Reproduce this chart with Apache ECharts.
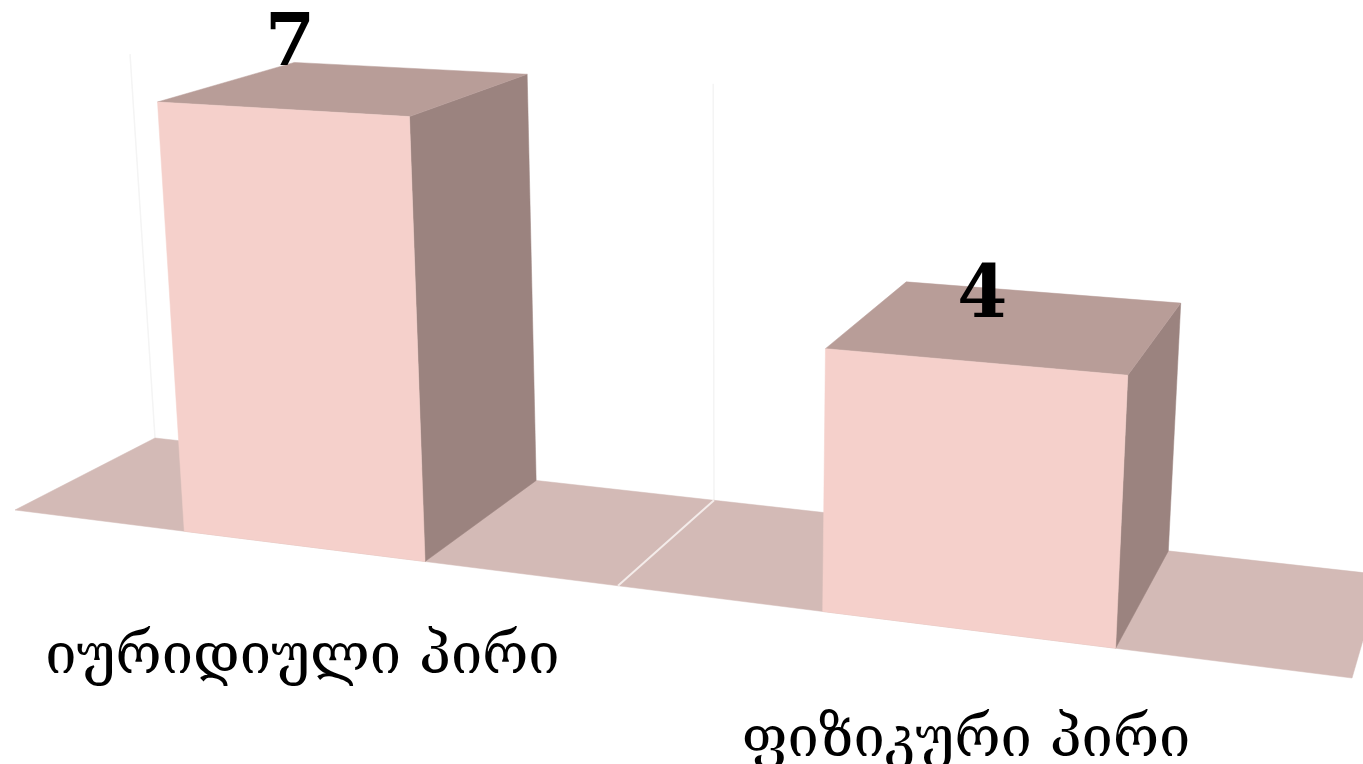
<!DOCTYPE html>
<html>
<head>
<meta charset="utf-8">
<script src="https://cdn.jsdelivr.net/npm/echarts@6/dist/echarts.min.js"></script>
<style>
  html, body { margin: 0; padding: 0; background: #fff; }
  #chart { width: 1363px; height: 764px; }
</style>
</head>
<body>
<div id="chart"></div>
<script>
const categories = ['იურიდიული პირი', 'ფიზიკური პირი'];
const values = [7, 4];
const yMax = 7;

// perspective camera: world X (0..1 along the row), Z (0 front .. 1 back), H (value units)
const CAM = {
  ux: 1095.7, uz: 154.58, uh: -4.75, u0: 15,
  vx: 47.0, vz: -30.81, vh: -60.35, v0: 510,
  wx: -0.1785, wz: 0.09404, wh: -0.0065
};
function project(X, H, Z) {
  const w = CAM.wx * X + CAM.wz * Z + CAM.wh * H + 1;
  return [
    (CAM.ux * X + CAM.uz * Z + CAM.uh * H + CAM.u0) / w,
    (CAM.vx * X + CAM.vz * Z + CAM.vh * H + CAM.v0) / w
  ];
}

const COLORS = { front: '#F5D0CB', top: '#B89D98', side: '#9B837F', floor: '#D3BAB6' };
const FONT = '"DejaVu Serif", "DejaVu Sans", serif';

// flat scale -> world units
function toWorld(params, api) {
  const cs = params.coordSys;
  const idx = api.value(0);
  const base = api.coord([idx, 0]);
  const top = api.coord([idx, api.value(1)]);
  const band = api.size([1, 0])[0];
  const perUnit = api.size([0, 1])[1];
  return {
    idx: idx,
    xc: (base[0] - cs.x) / cs.width,
    halfSlot: band / 2 / cs.width,
    halfBar: band * 0.2 / cs.width,
    h: (base[1] - top[1]) / perUnit,
    hTop: cs.height / perUnit
  };
}

function poly(pts, fill, z2) {
  return { type: 'polygon', z2: z2 || 0, shape: { points: pts }, style: { fill: fill, stroke: fill, lineWidth: 0.5 } };
}

function renderFloor(params, api) {
  const w = toWorld(params, api);
  const x0 = w.xc - w.halfSlot, x1 = w.xc + w.halfSlot;
  const children = [];
  // faint back gridline at slot start
  const g0 = project(x0, 0, 1), g1 = project(x0, w.hTop, 1);
  children.push({ type: 'line', shape: { x1: g0[0], y1: g0[1], x2: g1[0], y2: g1[1] }, style: { stroke: '#f4f4f4', lineWidth: 1.5 } });
  children.push(poly([project(x0, 0, 0), project(x1, 0, 0), project(x1, 0, 1), project(x0, 0, 1)], COLORS.floor, 1));
  if (w.idx > 0) {
    const d0 = project(x0, 0, 0), d1 = project(x0, 0, 1);
    children.push({ type: 'line', z2: 2, shape: { x1: d0[0], y1: d0[1], x2: d1[0], y2: d1[1] }, style: { stroke: '#f4ecea', lineWidth: 2 } });
  }
  return { type: 'group', children: children };
}

function renderBar(params, api) {
  const w = toWorld(params, api);
  const l = w.xc - w.halfBar, r = w.xc + w.halfBar, h = w.h;
  const children = [
    poly([project(r, 0, 0), project(r, 0, 1), project(r, h, 1), project(r, h, 0)], COLORS.side, 1),
    poly([project(l, h, 0), project(r, h, 0), project(r, h, 1), project(l, h, 1)], COLORS.top, 2),
    poly([project(l, 0, 0), project(r, 0, 0), project(r, h, 0), project(l, h, 0)], COLORS.front, 3)
  ];
  const lab = project(w.xc, h, 0);
  children.push({
    type: 'text', z2: 5,
    style: { text: String(api.value(1)), x: lab[0] + 9, y: lab[1] - 63, align: 'center', verticalAlign: 'middle',
      fontFamily: FONT, fontSize: 72, fontWeight: 'bold', fill: '#000' }
  });
  const cat = project(w.xc, 0, 0);
  children.push({
    type: 'text', z2: 5,
    style: { text: categories[w.idx], x: cat[0], y: cat[1] + 112, align: 'center', verticalAlign: 'middle',
      fontFamily: FONT, fontSize: 56, fill: '#000' }
  });
  return { type: 'group', children: children };
}

const chart = echarts.init(document.getElementById('chart'));
const seriesData = categories.map((c, i) => [i, values[i]]);
chart.setOption({
  backgroundColor: '#fff',
  animation: false,
  grid: { left: 0, top: 0, width: 1000, height: 700, show: false },
  xAxis: { type: 'category', data: categories, show: false },
  yAxis: { type: 'value', min: 0, max: yMax, show: false },
  series: [
    { type: 'custom', name: 'floor', z: 1, clip: false, renderItem: renderFloor, data: seriesData },
    { type: 'custom', name: 'bars', z: 2, clip: false, renderItem: renderBar, data: seriesData }
  ]
});
</script>
</body>
</html>
